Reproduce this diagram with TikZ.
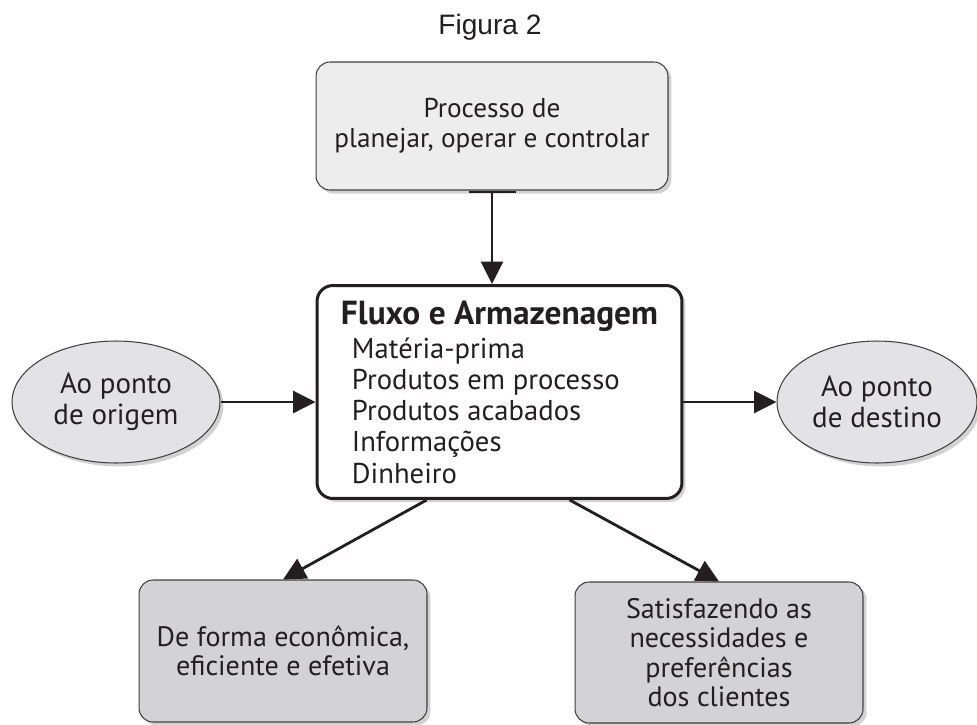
\documentclass[tikz,border=0pt]{standalone}
\usepackage{fontspec}
\setmainfont{PT Sans}
\newfontfamily\titlefont{Liberation Sans}
\usetikzlibrary{shapes.geometric}
\usetikzlibrary{arrows.meta}
\usetikzlibrary{shadows}
\definecolor{boxlight}{HTML}{EDEDEE}
\definecolor{boxdark}{HTML}{D3D3D5}
\definecolor{ovalfill}{HTML}{E3E3E5}
\definecolor{edgegray}{HTML}{404040}
\definecolor{inkgray}{HTML}{231F20}

\begin{document}
\begin{tikzpicture}[x=0.02cm,y=-0.02cm,
    every node/.style={text=inkgray, font=\fontsize{16}{16.8}\selectfont},
    softshadow/.style={drop shadow={shadow xshift=2pt, shadow yshift=-2pt, opacity=0.25, fill=black!70}},
    lightbox/.style={draw=edgegray, line width=0.6pt, rectangle, rounded corners=8pt, fill=boxlight, align=center, softshadow},
    darkbox/.style={draw=edgegray, line width=0.6pt, rectangle, rounded corners=8pt, fill=boxdark, align=center, softshadow},
    mainbox/.style={draw=inkgray, line width=1.7pt, rectangle, rounded corners=9pt, fill=white, align=left, softshadow},
    oval/.style={draw=edgegray, line width=0.6pt, ellipse, fill=ovalfill, align=center, inner sep=0pt, softshadow,
        font=\fontsize{16.5}{17.6}\selectfont},
    flow/.style={-{Triangle[length=0.45cm, width=0.44cm]}, line width=1.6pt, draw=inkgray}]
    \useasboundingbox (0,0) rectangle (977,724);

    \node[font=\titlefont\fontsize{16}{19}\selectfont] (titulo) at (490,27) {Figura 2};

    \node[lightbox, minimum width=7.04cm, minimum height=2.56cm, font=\fontsize{15.5}{17}\selectfont] (processo) at (492,126)
        {Processo de\\planejar, operar e controlar};
    \node[mainbox, minimum width=7.3cm, minimum height=4.26cm, font=\fontsize{16.3}{17.8}\selectfont] (fluxo) at (499.5,392)
        {\textbf{\fontsize{19}{19}\selectfont Fluxo e Armazenagem}\\[1.5pt]
         \hspace*{0.22cm}Matéria-prima\\
         \hspace*{0.22cm}Produtos em processo\\
         \hspace*{0.22cm}Produtos acabados\\
         \hspace*{0.22cm}Informações\\
         \hspace*{0.22cm}Dinheiro};
    \node[oval, minimum width=4.16cm, minimum height=2.44cm] (origem) at (116,402)
        {Ao ponto\\de origem};
    \node[oval, minimum width=4.0cm, minimum height=2.44cm] (destino) at (877,402)
        {Ao ponto\\de destino};
    \node[darkbox, minimum width=5.76cm, minimum height=2.84cm] (economia) at (283,651)
        {De forma econômica,\\eficiente e efetiva};
    \node[darkbox, minimum width=5.76cm, minimum height=2.82cm] (clientes) at (719,652.5)
        {Satisfazendo as\\necessidades e\\preferências\\dos clientes};

    \draw[flow, {Bar[width=0.94cm]}-{Triangle[length=0.45cm, width=0.44cm]}] (processo.south) -- (processo.south |- fluxo.north);
    \draw[flow] (origem.east) -- (origem.east -| fluxo.west);
    \draw[flow] (fluxo.east |- destino.west) -- (destino.west);
    \draw[flow] (fluxo.236) -- (economia.north);
    \draw[flow] (fluxo.303.5) -- (clientes.north);
\end{tikzpicture}
\end{document}
